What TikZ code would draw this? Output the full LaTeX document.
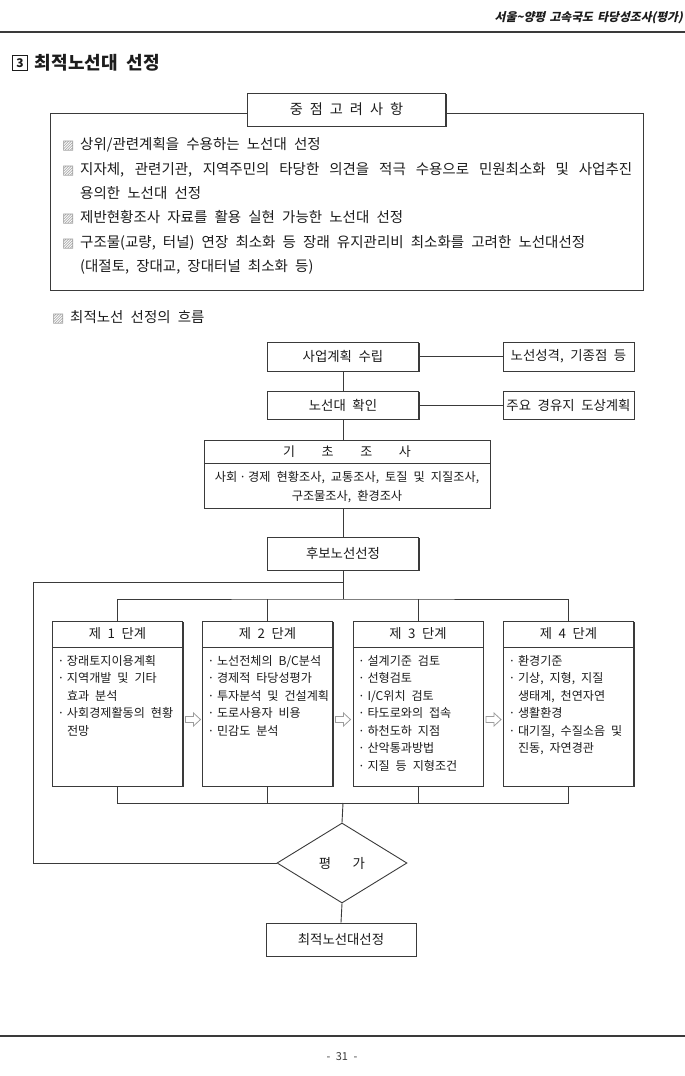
\documentclass[tikz,border=0pt]{standalone}
\usepackage{fontspec}
\setmainfont{Noto Sans CJK KR}[WordSpace=2.2]
\newfontfamily\symfont{DejaVu Sans}
\newfontfamily\headfont{Noto Sans CJK KR}[FakeSlant=0.22, WordSpace=1.6]
\usepackage{tikz}
\usetikzlibrary{positioning, shapes.geometric, shadows}
\definecolor{colorL}{HTML}{3A3A3A}
\definecolor{colorH}{HTML}{9C9C9C}
\definecolor{colorT}{HTML}{1C1C1C}

\newcommand{\hatchmark}{\makebox[18pt][l]{\symfont\fontsize{13}{13}\selectfont\color{colorH}▨}}
\newcommand{\stagedot}{\makebox[9.5pt][l]{·}}
\newcommand{\stagegap}{\hspace*{9.5pt}}

\tikzset{
  shade box/.style={drop shadow={shadow xshift=1.2pt, shadow yshift=-1.2pt, fill=colorL, opacity=1}},
  flowbox/.style={draw=colorL, line width=0.9pt, fill=white, shade box, inner sep=0pt,
    minimum height=29, text=colorT, font=\fontsize{13.4}{15}\selectfont},
  stagebox/.style={draw=colorL, line width=0.9pt, fill=white, shade box, inner sep=0pt,
    minimum width=130, minimum height=165},
  stagehead/.style={inner sep=0pt, minimum width=130, minimum height=26, text=colorT,
    font=\fontsize{13.3}{15}\selectfont},
  stagetext/.style={inner sep=0pt, align=left, anchor=north west, text=colorT,
    font=\fontsize{12.1}{17.5}\selectfont},
  keyline/.style={anchor=west, inner sep=0pt, text height=10pt, text depth=3pt, text=colorT,
    font=\fontsize{14.5}{16}\selectfont},
  link/.style={draw=colorL, line width=0.9pt},
  blockarrow/.style={draw=colorH, line width=0.8pt, fill=white, line join=miter},
}

\begin{document}
\begin{tikzpicture}[x=1pt, y=-1pt]
  \useasboundingbox (0,0) rectangle (685,1076);

  % running head and rules
  \node[anchor=east, inner sep=0pt, text=colorT, font=\headfont\bfseries\fontsize{11.8}{12}\selectfont]
    (runhead) at (683,18) {서울\textasciitilde 양평 고속국도 타당성조사(평가)};
  \draw[colorL, line width=1.8pt] (0,32) -- (685,32);
  \draw[colorL, line width=1.8pt] (0,1036) -- (685,1036);
  \node[text=colorL, font=\fontsize{11}{11}\selectfont] (pagenum) at (342,1057) {- 31 -};

  % section title
  \node[draw=colorT, line width=1pt, inner sep=0pt, minimum size=14.5, text=colorT,
    font=\bfseries\fontsize{12}{12}\selectfont] (secnum) at (20,63) {3};
  \node[right=7pt of secnum, inner sep=0pt, text=colorT, font=\bfseries\fontsize{18}{18}\selectfont]
    (sectitle) {최적노선대 선정};

  % key considerations
  \node[draw=colorL, line width=0.9pt, fill=white, shade box, minimum width=593, minimum height=177]
    (keybox) at (346.5,201.5) {};
  \node[flowbox, minimum width=198, minimum height=33, font=\fontsize{14.2}{16}\selectfont]
    (keytitle) at (346.5,109.5) {중 점 고 려 사 항};
  \foreach \y/\txt [count=\n] in {
      146/{\hatchmark 상위/관련계획을 수용하는 노선대 선정},
      171/{\hatchmark\makebox[552pt][s]{지자체, 관련기관, 지역주민의 타당한 의견을 적극 수용으로 민원최소화 및 사업추진}},
      195/{\hspace*{18pt}용의한 노선대 선정},
      219/{\hatchmark 제반현황조사 자료를 활용 실현 가능한 노선대 선정},
      244/{\hatchmark 구조물(교량, 터널) 연장 최소화 등 장래 유지관리비 최소화를 고려한 노선대선정},
      268/{\hspace*{18pt}(대절토, 장대교, 장대터널 최소화 등)}}
    \node[keyline] (keyline\n) at (62,\y) {\txt};

  % flow caption
  \node[keyline] (flowcap) at (52,319) {\hatchmark 최적노선 선정의 흐름};

  % upper flow
  \node[flowbox, minimum width=151] (plan) at (343,356.5) {사업계획 수립};
  \node[flowbox, minimum width=131] (nature) at (568.5,356.5) {노선성격, 기종점 등};
  \node[flowbox, minimum width=151, minimum height=28] (confirm) at (343,405) {노선대 확인};
  \node[flowbox, minimum width=131, minimum height=28] (waypoint) at (568.5,405) {주요 경유지 도상계획};

  \node[flowbox, minimum width=286, minimum height=68] (survey) at (347,474) {};
  \node[inner sep=0pt, minimum width=286, minimum height=23, text=colorT, font=\fontsize{13}{15}\selectfont,
    below=0pt of survey.north] (surveyhead) {기\hspace{2.05em}초\hspace{2.05em}조\hspace{2.05em}사};
  \draw[link] (surveyhead.south west) -- (surveyhead.south east);
  \node[inner sep=0pt, align=center, text=colorT, font=\fontsize{12.2}{19}\selectfont]
    (surveybody) at (347,487.5) {사회\,·\,경제 현황조사, 교통조사, 토질 및 지질조사,\\구조물조사, 환경조사};

  \node[flowbox, minimum width=151, minimum height=33] (candidate) at (343,553.5) {후보노선선정};

  % stages
  \foreach \i/\x/\head/\items in {
      1/117.5/{제 1 단계}/{\stagedot 장래토지이용계획\\\stagedot 지역개발 및 기타\\\stagegap 효과 분석\\\stagedot 사회경제활동의 현황\\\stagegap 전망},
      2/267.5/{제 2 단계}/{\stagedot 노선전체의 B/C분석\\\stagedot 경제적 타당성평가\\\stagedot 투자분석 및 건설계획\\\stagedot 도로사용자 비용\\\stagedot 민감도 분석},
      3/418/{제 3 단계}/{\stagedot 설계기준 검토\\\stagedot 선형검토\\\stagedot I/C위치 검토\\\stagedot 타도로와의 접속\\\stagedot 하천도하 지점\\\stagedot 산악통과방법\\\stagedot 지질 등 지형조건},
      4/568.5/{제 4 단계}/{\stagedot 환경기준\\\stagedot 기상, 지형, 지질\\\stagegap 생태계, 천연자연\\\stagedot 생활환경\\\stagedot 대기질, 수질소음 및\\\stagegap 진동, 자연경관}}
  {
    \node[stagebox] (s\i) at (\x,703.5) {};
    \node[stagehead, below=0pt of s\i.north] (s\i h) {\head};
    \draw[link] (s\i h.south west) -- (s\i h.south east);
    \node[stagetext] (s\i t) at ([xshift=5pt, yshift=-8pt]s\i h.south west) {\items};
  }
  \foreach \x in {193,343,493.5}
    \draw[blockarrow, shift={(\x,719.5)}] (-7.5,-3) -- (0.5,-3) -- (0.5,-6.5) -- (7.5,0)
      -- (0.5,6.5) -- (0.5,3) -- (-7.5,3) -- cycle;

  % evaluation and result
  \node[diamond, draw=colorL, line width=0.9pt, inner sep=0pt, minimum width=130, minimum height=80,
    text=colorT, font=\fontsize{13.4}{15}\selectfont] (eval) at (342,863) {평\hspace{1.6em}가};
  \node[flowbox, minimum width=150, minimum height=33] (final) at (341,939.5) {최적노선대선정};

  % connectors
  \coordinate (busTop) at (343,599);
  \coordinate (busBot) at (343,803);
  \coordinate (loopSplit) at (343,582);
  \coordinate (loopCorner) at (33,863);

  \draw[link] (plan) -- (nature);
  \draw[link] (confirm) -- (waypoint);
  \draw[link] (plan) -- (confirm);
  \draw[link] (confirm.south) -- (confirm.south |- survey.north);
  \draw[link] (candidate.north |- survey.south) -- (candidate.north);
  \draw[link] (candidate.south) -- (busTop);
  \draw[link] (s1.north) |- (busTop) -| (s4.north);
  \draw[link] (s2.north) -- (s2.north |- busTop);
  \draw[link] (s3.north) -- (s3.north |- busTop);
  \draw[link] (s1.south) |- (busBot) -| (s4.south);
  \draw[link] (s2.south) -- (s2.south |- busBot);
  \draw[link] (s3.south) -- (s3.south |- busBot);
  \draw[link] (busBot) -- (eval.north);
  \draw[link] (loopSplit) -| (loopCorner) -- (eval.west);
  \draw[link] (eval.south) -- (final.north);
\end{tikzpicture}
\end{document}
